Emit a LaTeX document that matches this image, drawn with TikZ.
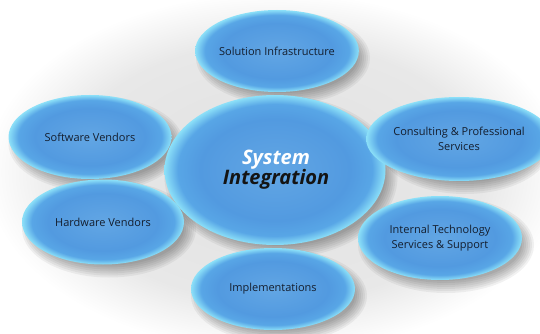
\documentclass[tikz,border=0pt]{standalone}
\usepackage{fontspec}
\setmainfont{Open Sans}
\usetikzlibrary{shapes.geometric}
\definecolor{bcen}{RGB}{98,166,228}
\definecolor{bmid}{RGB}{82,154,224}
\definecolor{bout}{RGB}{88,166,230}
\definecolor{brim}{RGB}{140,224,248}
\definecolor{txt}{RGB}{20,30,46}
\pgfdeclareradialshading{bluebub}{\pgfpoint{0bp}{0bp}}{color(0bp)=(bcen); color(17bp)=(bmid); color(22bp)=(bout); color(25bp)=(brim); color(50bp)=(brim)}
\pgfdeclareradialshading{halo}{\pgfpoint{0bp}{0bp}}{color(0bp)=(black!12); color(18bp)=(black!9); color(25bp)=(white); color(50bp)=(white)}
\tikzset{
  bub/.style={ellipse, shading=bluebub, inner sep=0pt, align=center,
    font=\fontsize{11}{15}\selectfont, text=txt},
  shadowlayer/.style={fill=black, opacity=0.05},
}
\begin{document}
\begin{tikzpicture}[x=1pt,y=-1pt]
\useasboundingbox (0,0) rectangle (540,334);
\fill[white] (0,0) rectangle (540,334);
\shade[shading=halo] (275,172) ellipse [x radius=290, y radius=180];
% soft shadows
\foreach \cx/\cy/\rx/\ry in {275/170/110.5/75, 90/137/81.5/42, 277/51/81/41, 459/139/80/42, 103/222/81/42.5, 440/238/82/42, 273/289/82/41}{
  \foreach \k in {0,...,6}{
    \fill[shadowlayer] (\cx+6,\cy+7) ellipse [x radius=\rx+6-2*\k, y radius=\ry+6-2*\k];
  }
}
\node[bub, minimum width=221pt, minimum height=150pt] (si) at (275,170) {};
\node[bub, minimum width=163pt, minimum height=84pt] (sv) at (90,137) {Software Vendors};
\node[bub, minimum width=162pt, minimum height=82pt] (sinf) at (277,51) {Solution Infrastructure};
\node[bub, minimum width=160pt, minimum height=84pt] (cps) at (459,139) {Consulting \& Professional\\Services};
\node[bub, minimum width=162pt, minimum height=85pt] (hv) at (103,222) {Hardware Vendors};
\node[bub, minimum width=164pt, minimum height=84pt] (its) at (440,238) {Internal Technology\\Services \& Support};
\node[bub, minimum width=164pt, minimum height=82pt] (imp) at (273,289) {Implementations};
\node[align=center, font=\fontsize{20}{20}\selectfont\bfseries\itshape] (lbl) at (276,170)
  {\textcolor{white}{System}\\\textcolor{black!92}{Integration}};
\end{tikzpicture}
\end{document}
